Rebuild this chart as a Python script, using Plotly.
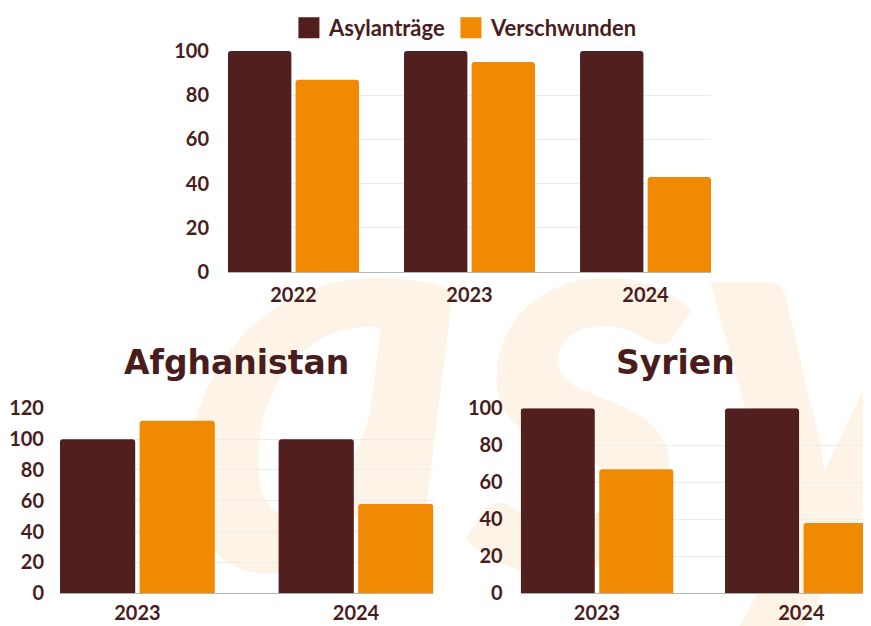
import plotly.graph_objects as go

series_names = ["Asylanträge", "Verschwunden"]
series_colors = ["#521f1f", "#ef8a02"]

top_years = ["2022", "2023", "2024"]
top_asyl = [100, 100, 100]
top_versch = [87, 95, 43]

afg_title = "Afghanistan"
afg_years = ["2023", "2024"]
afg_asyl = [100, 100]
afg_versch = [112, 58]

syr_title = "Syrien"
syr_years = ["2023", "2024"]
syr_asyl = [100, 100]
syr_versch = [67, 38]

top_ticks = [0, 20, 40, 60, 80, 100]
afg_ticks = [0, 20, 40, 60, 80, 100, 120]
syr_ticks = [0, 20, 40, 60, 80, 100]

FONT = "Lato"
TXT = "#4a1d1d"

fig = go.Figure()

# (x axis, y axis, categories, asyl, versch, half group width, inner gap)
panels = [
    ("x", "y", top_years, top_asyl, top_versch, 0.372, 0.012),
    ("x2", "y2", afg_years, afg_asyl, afg_versch, 0.354, 0.010),
    ("x3", "y3", syr_years, syr_asyl, syr_versch, 0.3735, 0.011),
]
for xa, ya, cats, a, v, half, g in panels:
    w = half - g
    fig.add_trace(go.Bar(x=cats, y=a, name=series_names[0],
                         marker_color=series_colors[0], marker_line_width=0,
                         offset=-half, width=w, xaxis=xa, yaxis=ya,
                         showlegend=False, hoverinfo="skip"))
    fig.add_trace(go.Bar(x=cats, y=v, name=series_names[1],
                         marker_color=series_colors[1], marker_line_width=0,
                         offset=g, width=w, xaxis=xa, yaxis=ya,
                         showlegend=False, hoverinfo="skip"))

# legend entries
for name, col in zip(series_names, series_colors):
    fig.add_trace(go.Scatter(x=[None], y=[None], mode="markers", name=name,
                             marker=dict(symbol="square", size=16, color=col,
                                         line=dict(color=col, width=5)),
                             xaxis="x", yaxis="y", showlegend=True))

def xax(domain, rng, standoff, anchor):
    return dict(domain=domain, range=rng, type="category", showgrid=False,
                showline=False, zeroline=False, ticks="", fixedrange=True,
                anchor=anchor,
                tickfont=dict(family=FONT, size=20, color=TXT, weight="bold"),
                ticklabelstandoff=standoff)

def yax(domain, rng, ticks, anchor, standoff):
    return dict(domain=domain, range=rng, tickvals=ticks, showgrid=True,
                gridcolor="#ececec", gridwidth=1, zeroline=True,
                zerolinecolor="#b5b5b5", zerolinewidth=1, showline=False,
                ticks="", anchor=anchor, fixedrange=True,
                tickfont=dict(family=FONT, size=20, color=TXT, weight="bold"),
                ticklabelstandoff=standoff)

fig.update_layout(
    width=863, height=618, autosize=False,
    margin=dict(l=0, r=0, t=0, b=0, pad=0, autoexpand=False),
    paper_bgcolor="white", plot_bgcolor="rgba(0,0,0,0)",
    barmode="overlay", barcornerradius=3,
    xaxis=xax([0.25492, 0.81460], [-0.372, 2.372], 9, "y"),
    yaxis=yax([0.57282, 0.93042], [0, 100], top_ticks, "x", 18),
    xaxis2=xax([0.06025, 0.49293], [-0.354, 1.354], 6, "y2"),
    yaxis2=yax([0.05291, 0.35227], [0, 120], afg_ticks, "x2", 15),
    xaxis3=xax([0.59409, 1.0], [-0.3735, 1.341], 6, "y3"),
    yaxis3=yax([0.05291, 0.35227], [0, 100], syr_ticks, "x3", 17),
    showlegend=True,
    legend=dict(orientation="h", x=0.5306, xanchor="center", y=0.9676,
                yanchor="middle", bgcolor="rgba(0,0,0,0)",
                font=dict(family=FONT, size=22, color=TXT, weight="bold"),
                itemsizing="trace", itemwidth=30, tracegroupgap=0),
    annotations=[
        dict(text=afg_title, x=0.2648, y=0.4256, xref="paper", yref="paper",
             showarrow=False, xanchor="center", yanchor="middle",
             font=dict(family="DejaVu Sans", size=33, color=TXT, weight="bold")),
        dict(text=syr_title, x=0.7729, y=0.4256, xref="paper", yref="paper",
             showarrow=False, xanchor="center", yanchor="middle",
             font=dict(family="DejaVu Sans", size=33, color=TXT, weight="bold")),
    ],
    shapes=[
        dict(type="rect", xref="paper", yref="paper", x0=0.206, x1=1.106,
             y0=0.029, y1=0.879, layer="below", line=dict(width=0),
             fillcolor="rgba(0,0,0,0)",
             label=dict(text="asy", textposition="middle center",
                        font=dict(family=FONT, size=560, color="#fdf4e7",
                                  weight="bold", style="italic"))),
    ],
)

fig.write_html("out.html")
